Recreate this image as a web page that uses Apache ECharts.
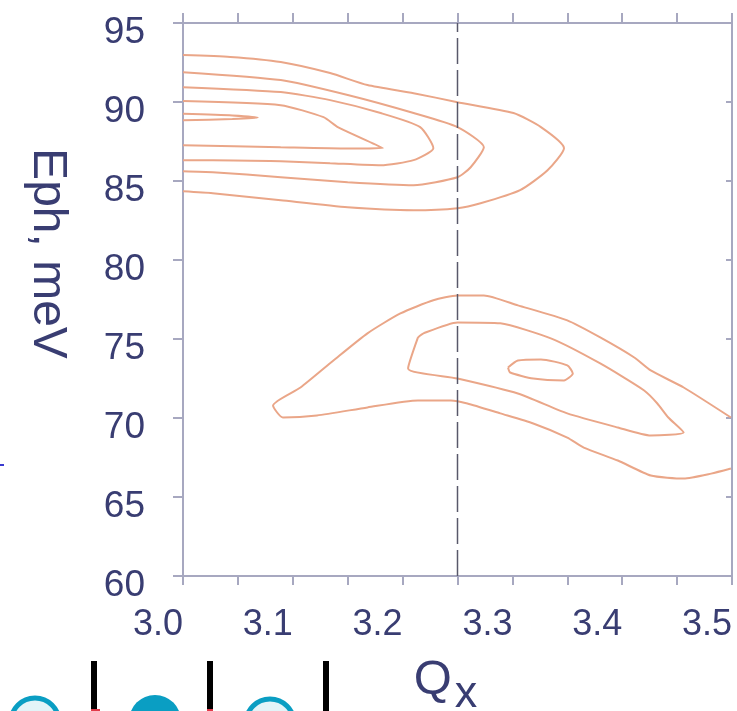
<!DOCTYPE html>
<html>
<head>
<meta charset="utf-8">
<script src="https://cdn.jsdelivr.net/npm/echarts@6/dist/echarts.min.js"></script>
<style>
  html, body { margin: 0; padding: 0; background: #ffffff; }
  #chart { width: 737px; height: 711px; }
</style>
</head>
<body>
<div id="chart"></div>
<script>
// Phonon intensity contours: energy E_ph (meV) against momentum Q_x.
// Each contour is a list of [Qx, E] points.

// Upper branch (~83-93 meV), contours open at Qx = 3.0
const upperLevel1 = [
  [3.000, 92.97], [3.043, 92.85], [3.089, 92.53], [3.134, 91.83], [3.168, 91.07],
  [3.210, 90.56], [3.250, 89.99], [3.301, 89.30], [3.326, 88.41], [3.347, 87.08],
  [3.332, 85.68], [3.307, 84.42], [3.271, 83.59], [3.250, 83.28], [3.210, 83.15],
  [3.150, 83.34], [3.089, 83.78], [3.027, 84.23], [3.000, 84.35]
];
const upperLevel2 = [
  [3.000, 91.89], [3.089, 91.39], [3.150, 90.44], [3.210, 89.30], [3.250, 88.41],
  [3.274, 87.14], [3.262, 85.87], [3.250, 85.24], [3.210, 84.73], [3.150, 84.92],
  [3.089, 85.24], [3.027, 85.56], [3.000, 85.62]
];
const upperLevel3 = [
  [3.000, 90.94], [3.089, 90.63], [3.134, 90.12], [3.180, 89.30], [3.216, 88.41],
  [3.228, 87.08], [3.210, 86.32], [3.180, 86.00], [3.134, 86.13], [3.089, 86.25],
  [3.027, 86.32], [3.000, 86.32]
];
const upperLevel4 = [
  [3.000, 90.06], [3.089, 89.80], [3.128, 89.04], [3.141, 88.41], [3.182, 87.08],
  [3.150, 87.06], [3.089, 87.14], [3.000, 87.27]
];
const upperLevel5 = [
  [3.000, 89.25], [3.045, 89.15], [3.068, 89.02], [3.045, 88.92], [3.000, 88.85]
];

// Lower branch (~66-78 meV)
const lowerLevel1 = [
  [3.499, 70.03], [3.456, 71.93], [3.426, 73.01], [3.411, 73.83], [3.380, 75.10],
  [3.350, 76.18], [3.305, 77.13], [3.274, 77.76], [3.250, 77.76], [3.228, 77.45],
  [3.198, 76.62], [3.168, 75.36], [3.137, 73.64], [3.107, 71.93], [3.082, 70.79],
  [3.091, 70.03], [3.122, 70.16], [3.168, 70.67], [3.214, 71.11], [3.244, 71.11],
  [3.259, 70.92], [3.289, 70.29], [3.319, 69.65], [3.350, 68.76], [3.365, 68.13],
  [3.396, 67.31], [3.426, 66.36], [3.456, 66.17], [3.481, 66.48], [3.499, 66.80]
];
const lowerLevel2 = [
  [3.214, 75.10], [3.205, 73.14], [3.250, 72.50], [3.305, 71.55], [3.350, 70.29],
  [3.396, 69.40], [3.426, 68.89], [3.456, 69.08], [3.442, 70.03], [3.432, 70.92],
  [3.420, 71.74], [3.380, 73.45], [3.335, 75.04], [3.289, 75.99], [3.250, 76.05],
  [3.219, 75.36], [3.214, 75.10]
];
const lowerLevel3 = [
  [3.296, 73.20], [3.305, 73.64], [3.326, 73.71], [3.350, 73.33], [3.355, 72.82],
  [3.347, 72.38], [3.319, 72.50], [3.298, 72.88], [3.296, 73.20]
];

// Axis ranges and the reference line position
const qRange = [3.0, 3.5];
const eRange = [60, 95];
const qStep = 0.1;
const eStep = 5;
const boundaryQ = 3.25;

const FONT = '"Liberation Sans", Arial, Helvetica, sans-serif';
const INK = '#393d72';
const FRAME = '#a7a8c0';
const CONTOUR = '#eaa688';

const contours = [
  upperLevel1, upperLevel2, upperLevel3, upperLevel4, upperLevel5,
  lowerLevel1, lowerLevel2, lowerLevel3
];

const series = contours.map(function (pts) {
  return {
    type: 'line',
    data: pts,
    showSymbol: false,
    smooth: 0.2,
    silent: true,
    animation: false,
    lineStyle: { color: CONTOUR, width: 2 },
    z: 3
  };
});

series.push({
  type: 'line',
  data: [[boundaryQ, eRange[0]], [boundaryQ, eRange[1]]],
  showSymbol: false,
  silent: true,
  animation: false,
  lineStyle: { color: '#58586a', width: 1.5, type: [26, 6] },
  z: 4
});

const frameLine = { show: true, lineStyle: { color: FRAME, width: 2 } };

const option = {
  backgroundColor: '#ffffff',
  animation: false,
  grid: { left: 183, right: 5, top: 23, bottom: 135, containLabel: false, outerBoundsMode: 'none' },
  xAxis: [
    {
      type: 'value', position: 'bottom',
      min: qRange[0], max: qRange[1], interval: qStep,
      axisLine: frameLine,
      axisTick: { show: true, inside: false, length: 9, lineStyle: { color: FRAME, width: 2 } },
      minorTick: { show: true, splitNumber: 2, length: 9, lineStyle: { color: FRAME, width: 2 } },
      splitLine: { show: false },
      axisLabel: {
        formatter: function (v) { return v.toFixed(1); },
        fontSize: 36, color: INK, fontFamily: FONT,
        margin: 31, padding: [0, 50, 0, 0]
      },
      name: '{q|Q}{s|x}',
      nameLocation: 'middle',
      nameGap: 68,
      nameTextStyle: {
        padding: [0, 24, 0, 0],
        rich: {
          q: { fontSize: 49, color: INK, fontFamily: FONT },
          s: { fontSize: 45, color: INK, fontFamily: FONT, padding: [28, 0, 0, 3] }
        }
      }
    },
    {
      type: 'value', position: 'top',
      min: qRange[0], max: qRange[1], interval: qStep / 2,
      axisLine: frameLine,
      axisTick: { show: true, inside: false, length: 10, lineStyle: { color: FRAME, width: 2 } },
      axisLabel: { show: false },
      splitLine: { show: false }
    }
  ],
  yAxis: [
    {
      type: 'value', position: 'left',
      min: eRange[0], max: eRange[1], interval: eStep,
      axisLine: frameLine,
      axisTick: { show: true, inside: false, length: 10, lineStyle: { color: FRAME, width: 2 } },
      splitLine: { show: false },
      axisLabel: {
        // an empty spacer line above each number drops it slightly below its tick
        formatter: function (v) { return '{g| }\n{n|' + v + '}'; },
        margin: 38,
        rich: {
          g: { fontSize: 8, lineHeight: 19 },
          n: { fontSize: 37, lineHeight: 40, color: INK, fontFamily: FONT }
        }
      },
      name: 'Eph, meV',
      nameLocation: 'middle',
      nameRotate: -90,
      nameGap: 112,
      nameTextStyle: { fontSize: 48, color: INK, fontFamily: FONT, padding: [0, 92, 0, 0] }
    },
    {
      type: 'value', position: 'right',
      min: eRange[0], max: eRange[1], interval: eStep,
      axisLine: frameLine,
      axisTick: { show: true, inside: true, length: 6, lineStyle: { color: FRAME, width: 2 } },
      axisLabel: { show: false },
      splitLine: { show: false }
    }
  ],
  graphic: [
    { type: 'circle', shape: { cx: 35, cy: 722, r: 24 }, style: { fill: '#e3f4f8', stroke: '#0a9ec3', lineWidth: 5 } },
    { type: 'rect', shape: { x: 91, y: 661, width: 6, height: 50 }, style: { fill: '#000000' } },
    { type: 'rect', shape: { x: 91, y: 709, width: 9, height: 2 }, style: { fill: '#e23a4a' } },
    { type: 'circle', shape: { cx: 155, cy: 721, r: 26 }, style: { fill: '#0a9ec3' } },
    { type: 'rect', shape: { x: 207, y: 661, width: 6, height: 50 }, style: { fill: '#000000' } },
    { type: 'rect', shape: { x: 207, y: 709, width: 6, height: 2 }, style: { fill: '#e23a4a' } },
    { type: 'circle', shape: { cx: 270, cy: 723, r: 24 }, style: { fill: '#e3f4f8', stroke: '#0a9ec3', lineWidth: 5 } },
    { type: 'rect', shape: { x: 323, y: 661, width: 6, height: 50 }, style: { fill: '#000000' } },
    { type: 'rect', shape: { x: 0, y: 464, width: 4, height: 2 }, style: { fill: '#3a3ad0' } }
  ],
  series: series
};

const chart = echarts.init(document.getElementById('chart'), null, { renderer: 'canvas' });
chart.setOption(option);
</script>
</body>
</html>
